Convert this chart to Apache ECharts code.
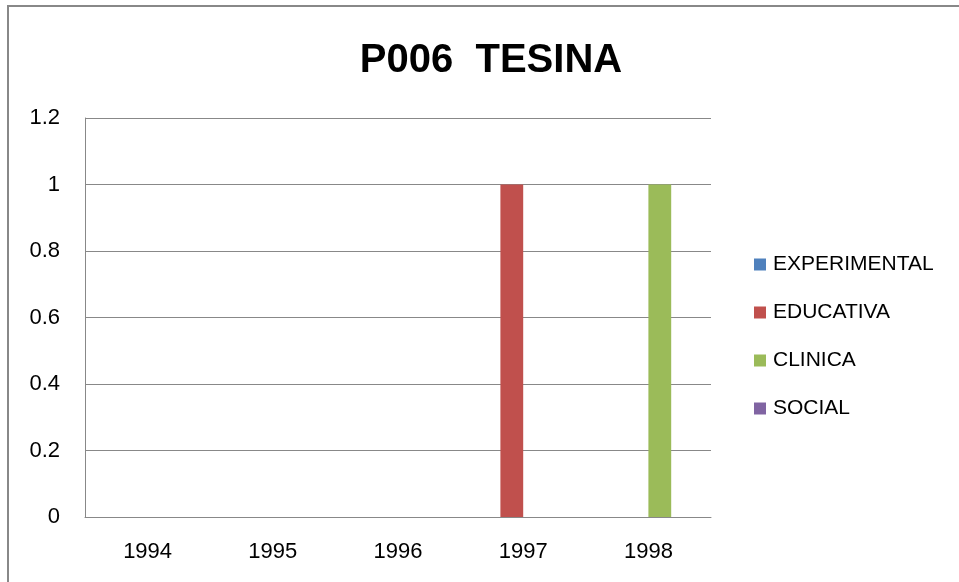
<!DOCTYPE html>
<html>
<head>
<meta charset="utf-8">
<script src="https://cdn.jsdelivr.net/npm/echarts@6/dist/echarts.min.js"></script>
<style>
html,body{margin:0;padding:0;background:#fff;}
#chart{width:959px;height:582px;}
</style>
</head>
<body>
<div id="chart"></div>
<script>
const categories = ['1994', '1995', '1996', '1997', '1998'];
const seriesNames = ['EXPERIMENTAL', 'EDUCATIVA', 'CLINICA', 'SOCIAL'];
const experimental = [0, 0, 0, 0, 0];
const educativa = [0, 0, 0, 1, 0];
const clinica = [0, 0, 0, 0, 1];
const social = [0, 0, 0, 0, 0];
const yTicks = [0, 0.2, 0.4, 0.6, 0.8, 1, 1.2];

const colors = ['#4F81BD', '#C0504D', '#9BBB59', '#8064A2'];
const values = [experimental, educativa, clinica, social];
const FONT = 'Liberation Sans';

const chart = echarts.init(document.getElementById('chart'), null, {renderer: 'canvas'});
chart.setOption({
  animation: false,
  backgroundColor: '#fff',
  title: {
    text: 'P006  TESINA',
    left: 486, top: 36, textAlign: 'center',
    textStyle: {fontFamily: FONT, fontWeight: 'bold', fontSize: 40, color: '#000'}
  },
  graphic: [{
    type: 'rect', silent: true, z: -1,
    shape: {x: 8, y: 6, width: 1000, height: 700},
    style: {fill: 'none', stroke: '#888', lineWidth: 2}
  }],
  legend: {
    orient: 'vertical',
    left: 749, top: 249,
    itemWidth: 12, itemHeight: 12, itemGap: 27,
    icon: 'rect',
    textStyle: {fontFamily: FONT, fontSize: 21, color: '#000', padding: [0, 0, 0, 2]},
    data: seriesNames
  },
  grid: {left: 85, right: 248, top: 118, bottom: 65, containLabel: false},
  xAxis: {
    type: 'category', data: categories,
    axisLine: {show: true, lineStyle: {color: '#888', width: 1}},
    axisTick: {show: false},
    axisLabel: {fontFamily: FONT, fontSize: 22, color: '#000', margin: 24}
  },
  yAxis: {
    type: 'value', min: 0, max: 1.2, interval: 0.2,
    axisLine: {show: true, lineStyle: {color: '#888', width: 1}},
    axisTick: {show: false},
    splitLine: {lineStyle: {color: '#888', width: 1}},
    axisLabel: {
      fontFamily: FONT, fontSize: 22, color: '#000', margin: 25,
      formatter: v => {
        const t = yTicks.find(x => Math.abs(x - v) < 1e-9);
        return t === undefined ? '' : String(t);
      }
    }
  },
  series: seriesNames.map((name, i) => ({
    name, type: 'bar', data: values[i],
    barWidth: 22.8, barGap: '0%',
    itemStyle: {color: colors[i]}
  }))
});
</script>
</body>
</html>
